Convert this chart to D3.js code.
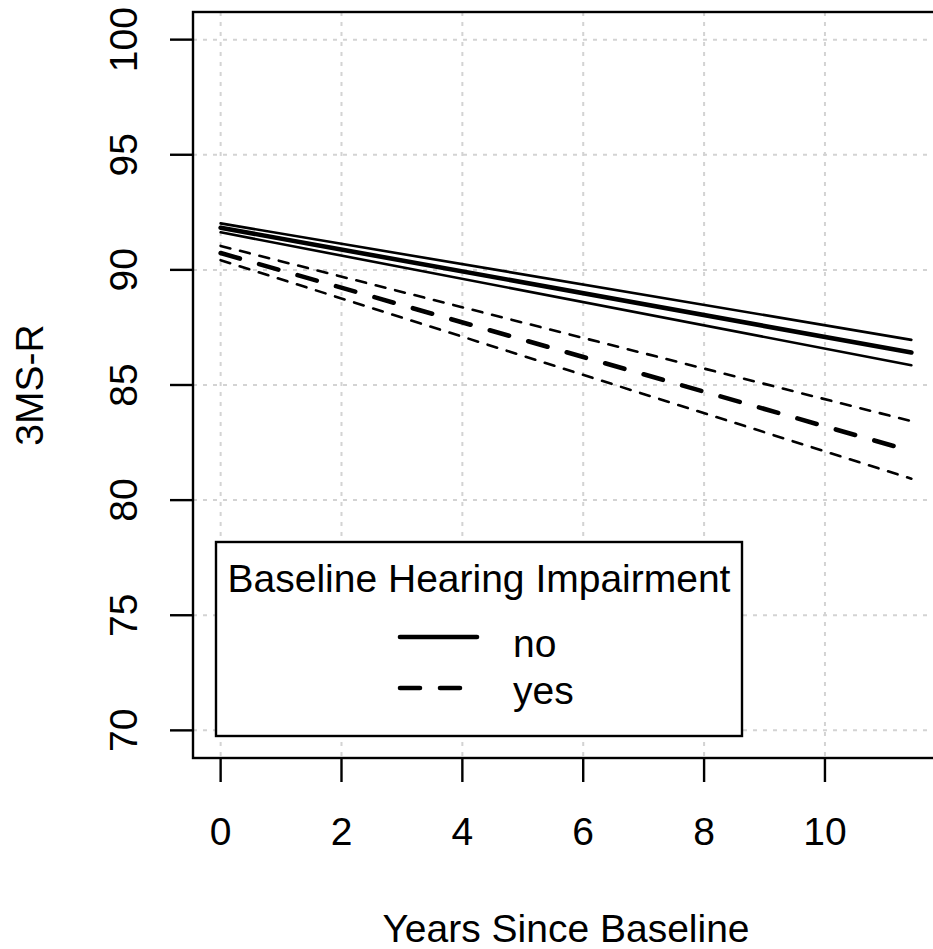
<!DOCTYPE html>
<html>
<head>
<meta charset="utf-8">
<script src="https://cdn.jsdelivr.net/npm/d3@7"></script>
<style>
    html, body { margin: 0; padding: 0; background: #fff; }
    svg { display: block; font-family: "Liberation Sans", Arial, Helvetica, sans-serif; }
</style>
</head>
<body>
<div id="viewport"></div>
<script>
// values
const years = [0, 11.43];
const noFit = [91.83, 86.41];
const noLower = [91.63, 85.86];
const noUpper = [92.02, 86.96];
const yesFit = [90.73, 82.13];
const yesLower = [90.42, 80.93];
const yesUpper = [91.04, 83.43];

const xTicks = [0, 2, 4, 6, 8, 10];
const yTicks = [70, 75, 80, 85, 90, 95, 100];
const legendLabels = ["no", "yes"];

const width = 933, height = 949;
const plot = { left: 193, right: 939, top: 12, bottom: 758 };
const fontSize = 39;

// R style 4% padding around the data range
const xPad = 0.04 * (d3.max(years) - d3.min(years));
const x = d3.scaleLinear()
    .domain([d3.min(years) - xPad, d3.max(years) + xPad])
    .range([plot.left, plot.right]);
const yPad = 0.04 * (d3.max(yTicks) - d3.min(yTicks));
const y = d3.scaleLinear()
    .domain([d3.min(yTicks) - yPad, d3.max(yTicks) + yPad])
    .range([plot.bottom, plot.top]);

const svg = d3.select("#viewport")
    .append("svg")
    .attr("width", width)
    .attr("height", height);

svg.append("rect")
    .attr("width", width)
    .attr("height", height)
    .attr("fill", "#fff");

// grid
const grid = svg.append("g").attr("class", "grid")
    .attr("stroke", "#d3d3d3")
    .attr("stroke-width", 2)
    .attr("stroke-dasharray", "4,6");
grid.selectAll(".gx").data(xTicks).join("line")
    .attr("x1", d => x(d)).attr("x2", d => x(d))
    .attr("y1", plot.top).attr("y2", plot.bottom);
grid.selectAll(".gy").data(yTicks).join("line")
    .attr("x1", plot.left).attr("x2", plot.right)
    .attr("y1", d => y(d)).attr("y2", d => y(d));

// lines
const series = [
    { vals: noUpper, width: 2.6, dash: null },
    { vals: noFit, width: 4.6, dash: null },
    { vals: noLower, width: 2.6, dash: null },
    { vals: yesUpper, width: 2.6, dash: "10,10" },
    { vals: yesFit, width: 4.6, dash: "20,20" },
    { vals: yesLower, width: 2.6, dash: "10,10" }
];
const line = d3.line()
    .x((_d, i) => x(years[i]))
    .y(d => y(d));

svg.append("g").selectAll("path")
    .data(series)
    .join("path")
    .attr("d", s => line(s.vals))
    .attr("fill", "none")
    .attr("stroke", "#000")
    .attr("stroke-width", s => s.width)
    .attr("stroke-linecap", "round")
    .attr("stroke-dasharray", s => s.dash);

// box
svg.append("rect")
    .attr("x", plot.left)
    .attr("y", plot.top)
    .attr("width", plot.right - plot.left)
    .attr("height", plot.bottom - plot.top)
    .attr("fill", "none")
    .attr("stroke", "#000")
    .attr("stroke-width", 2.4);

// x axis
const xAxis = svg.append("g").attr("transform", `translate(0,${plot.bottom})`);
xAxis.selectAll("line").data(xTicks).join("line")
    .attr("x1", d => x(d)).attr("x2", d => x(d))
    .attr("y1", 0).attr("y2", 24)
    .attr("stroke", "#000").attr("stroke-width", 2.4);
xAxis.selectAll("text").data(xTicks).join("text")
    .attr("x", d => x(d))
    .attr("y", 87)
    .attr("text-anchor", "middle")
    .attr("font-size", fontSize)
    .text(d => d);

// y axis
const yAxis = svg.append("g").attr("transform", `translate(${plot.left},0)`);
yAxis.selectAll("line").data(yTicks).join("line")
    .attr("x1", 0).attr("x2", -23)
    .attr("y1", d => y(d)).attr("y2", d => y(d))
    .attr("stroke", "#000").attr("stroke-width", 2.4);
yAxis.selectAll("text").data(yTicks).join("text")
    .attr("transform", d => `translate(-56,${y(d)}) rotate(-90)`)
    .attr("text-anchor", "middle")
    .attr("font-size", fontSize)
    .text(d => d);

// axis titles
svg.append("text")
    .attr("x", (plot.left + plot.right) / 2)
    .attr("y", 942)
    .attr("text-anchor", "middle")
    .attr("font-size", fontSize)
    .text("Years Since Baseline");
svg.append("text")
    .attr("transform", `translate(43,${(plot.top + plot.bottom) / 2}) rotate(-90)`)
    .attr("text-anchor", "middle")
    .attr("font-size", fontSize)
    .text("3MS-R");

// legend
const legend = svg.append("g").attr("transform", "translate(216,542)");
legend.append("rect")
    .attr("width", 526)
    .attr("height", 194)
    .attr("fill", "#fff")
    .attr("stroke", "#000")
    .attr("stroke-width", 2.4);
legend.append("text")
    .attr("x", 263)
    .attr("y", 50)
    .attr("text-anchor", "middle")
    .attr("font-size", fontSize)
    .text("Baseline Hearing Impairment");
const items = legend.selectAll(".item")
    .data(legendLabels)
    .join("g")
    .attr("transform", (_d, i) => `translate(0,${95 + i * 51})`);
items.append("line")
    .attr("x1", 184).attr("x2", 261)
    .attr("stroke", "#000")
    .attr("stroke-width", 4.6)
    .attr("stroke-linecap", "round")
    .attr("stroke-dasharray", (_d, i) => i === 0 ? null : "20,20");
items.append("text")
    .attr("x", 297)
    .attr("y", (_d, i) => i === 0 ? 20 : 16)
    .attr("font-size", fontSize)
    .text(d => d);
</script>
</body>
</html>
